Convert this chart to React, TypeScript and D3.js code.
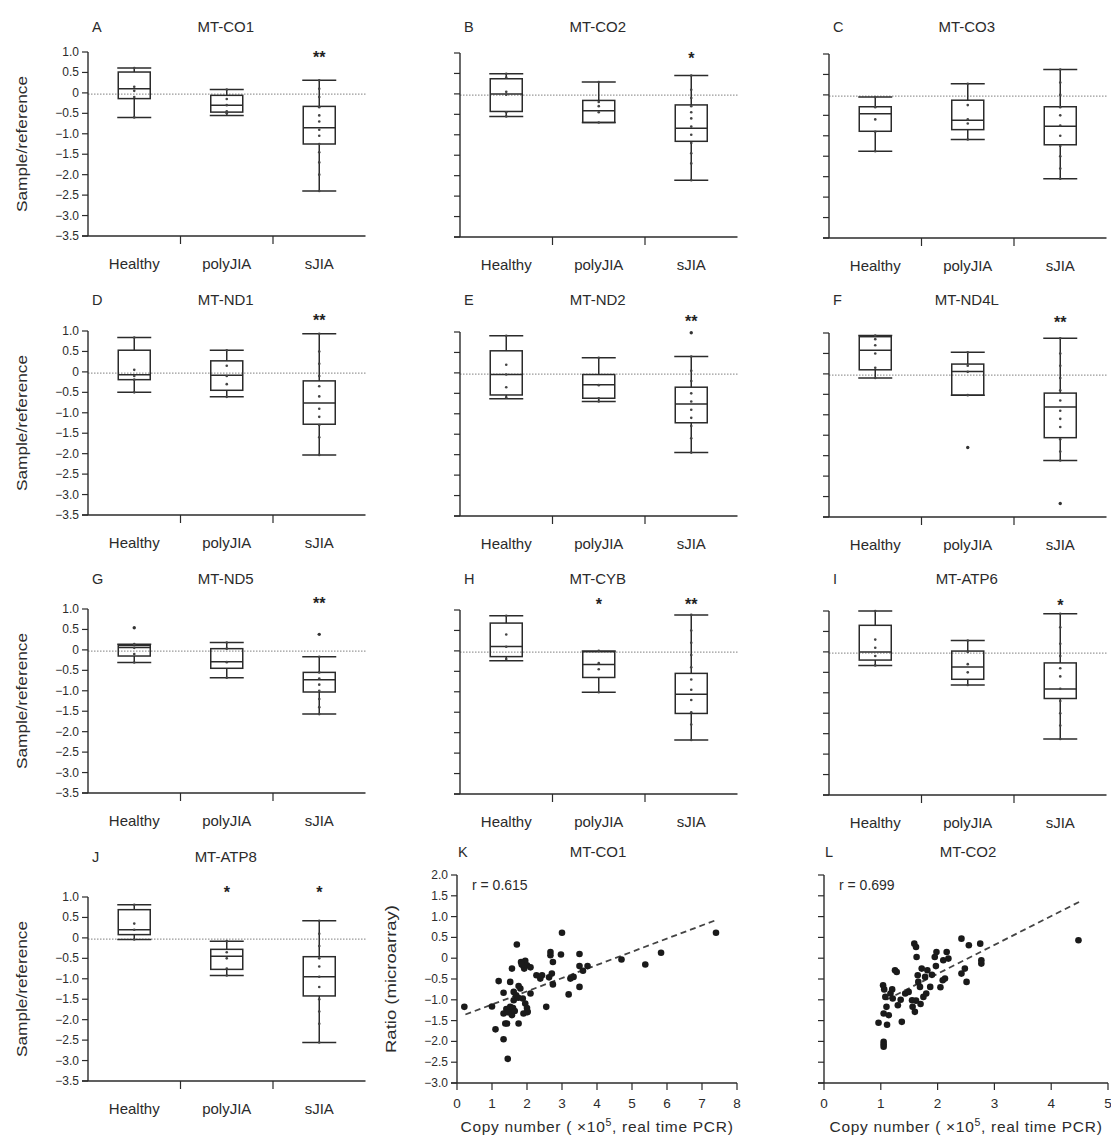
import React from 'react';
import * as d3 from 'd3';

const groups = ['Healthy', 'polyJIA', 'sJIA'];
const boxLetters = ['A', 'B', 'C', 'D', 'E', 'F', 'G', 'H', 'I', 'J'];
const boxGenes = ['MT-CO1', 'MT-CO2', 'MT-CO3', 'MT-ND1', 'MT-ND2', 'MT-ND4L', 'MT-ND5', 'MT-CYB', 'MT-ATP6', 'MT-ATP8'];
const yTicks = [1, 0.5, 0, -0.5, -1, -1.5, -2, -2.5, -3, -3.5];
const yTickLabels = ['1.0', '0.5', '0', '−0.5', '−1.0', '−1.5', '−2.0', '−2.5', '−3.0', '−3.5'];

// [min, q1, median, q3, max] per group
const statsCO1 = [[-0.6, -0.14, 0.1, 0.51, 0.61], [-0.55, -0.47, -0.3, -0.06, 0.08], [-2.4, -1.25, -0.85, -0.33, 0.31]];
const statsCO2 = [[-0.55, -0.43, 0.0, 0.37, 0.49], [-0.7, -0.7, -0.41, -0.16, 0.29], [-2.11, -1.16, -0.84, -0.27, 0.45]];
const statsCO3 = [[-1.38, -0.89, -0.46, -0.29, -0.05], [-1.09, -0.85, -0.62, -0.13, 0.27], [-2.05, -1.22, -0.77, -0.29, 0.62]];
const statsND1 = [[-0.5, -0.19, -0.07, 0.53, 0.84], [-0.61, -0.45, -0.08, 0.27, 0.53], [-2.03, -1.28, -0.76, -0.22, 0.93]];
const statsND2 = [[-0.63, -0.54, -0.04, 0.54, 0.91], [-0.7, -0.62, -0.29, -0.04, 0.37], [-1.95, -1.22, -0.76, -0.35, 0.4]];
const statsND4L = [[-0.1, 0.1, 0.58, 0.91, 0.94], [-0.52, -0.52, 0.06, 0.24, 0.53], [-2.12, -1.56, -0.81, -0.47, 0.87]];
const statsND5 = [[-0.31, -0.15, 0.06, 0.11, 0.14], [-0.68, -0.45, -0.29, 0.03, 0.18], [-1.57, -1.03, -0.73, -0.55, -0.17]];
const statsCYB = [[-0.24, -0.14, 0.11, 0.68, 0.86], [-1.01, -0.65, -0.33, -0.02, 0.0], [-2.18, -1.53, -1.06, -0.55, 0.88]];
const statsATP6 = [[-0.33, -0.2, 0.0, 0.65, 1.0], [-0.81, -0.67, -0.37, 0.02, 0.28], [-2.13, -1.14, -0.91, -0.27, 0.93]];
const statsATP8 = [[-0.04, 0.08, 0.2, 0.69, 0.81], [-0.92, -0.77, -0.45, -0.28, -0.08], [-2.56, -1.42, -0.95, -0.46, 0.42]];

// individual sample values visible inside the boxes
const dotsCO1 = [[0.61, 0.15, 0.05, -0.1, -0.6], [0.08, -0.15, -0.3, -0.45, -0.5], [0.31, 0.1, -0.1, -0.35, -0.55, -0.7, -0.9, -1.05, -1.25, -1.45, -1.7, -2.0, -2.4]];
const dotsCO2 = [[0.49, 0.4, 0.05, -0.02, -0.45, -0.55], [0.29, -0.2, -0.3, -0.45, -0.7], [0.45, 0.1, -0.1, -0.3, -0.45, -0.6, -0.8, -1.0, -1.2, -1.45, -1.7, -2.11]];
const dotsCO3 = [[-0.05, -0.3, -0.6, -0.9, -1.38], [0.27, -0.25, -0.6, -0.7, -1.09], [0.62, 0.3, 0, -0.3, -0.5, -0.75, -1.0, -1.25, -1.5, -1.8, -2.05]];
const dotsND1 = [[0.84, 0.05, -0.1, -0.19, -0.5], [0.53, 0.15, -0.1, -0.3, -0.61], [0.93, 0.5, 0.2, -0.1, -0.35, -0.6, -0.9, -1.1, -1.3, -1.6, -2.03]];
const dotsND2 = [[0.91, 0.2, -0.04, -0.35, -0.6], [0.37, -0.3, -0.62, -0.7], [0.4, 0.05, -0.2, -0.5, -0.7, -0.9, -1.1, -1.3, -1.6, -1.95]];
const dotsND4L = [[0.94, 0.85, 0.7, 0.5, 0.15, -0.1], [0.53, 0.2, 0.05, -0.52], [0.87, 0.5, 0.2, -0.1, -0.4, -0.65, -0.9, -1.1, -1.3, -1.6, -1.9, -2.12]];
const dotsND5 = [[0.14, 0.05, -0.1, -0.31], [0.18, 0.03, -0.3, -0.68], [-0.17, -0.55, -0.7, -0.85, -1.0, -1.2, -1.4, -1.57]];
const dotsCYB = [[0.86, 0.4, 0.1, -0.2], [0.0, -0.3, -0.45, -1.01], [0.88, 0.5, 0.2, -0.1, -0.4, -0.7, -0.95, -1.2, -1.5, -1.8, -2.18]];
const dotsATP6 = [[1.0, 0.3, 0.1, -0.1, -0.33], [0.28, 0.0, -0.3, -0.5, -0.81], [0.93, 0.6, 0.2, -0.1, -0.4, -0.6, -0.9, -1.2, -1.5, -1.8, -2.13]];
const dotsATP8 = [[0.81, 0.35, 0.2, -0.04], [-0.08, -0.35, -0.5, -0.75, -0.92], [0.42, 0.1, -0.2, -0.5, -0.7, -0.95, -1.2, -1.5, -1.8, -2.1, -2.56]];

const outliersND2 = [[], [], [0.98]];
const outliersND4L = [[], [-1.8], [-3.17]];
const outliersND5 = [[0.54], [], [0.38]];

const starsCO1 = ['', '', '**'];
const starsCO2 = ['', '', '*'];
const starsCO3 = ['', '', ''];
const starsND1 = ['', '', '**'];
const starsND2 = ['', '', '**'];
const starsND4L = ['', '', '**'];
const starsND5 = ['', '', '**'];
const starsCYB = ['', '*', '**'];
const starsATP6 = ['', '', '*'];
const starsATP8 = ['', '*', '*'];

// scatter K: MT-CO1 microarray ratio vs copy number
const kX = [0.21, 1.0, 1.19, 1.1, 1.33, 1.33, 1.45, 1.38, 1.43, 1.52, 1.57, 1.71, 1.76, 1.33, 1.41, 1.48, 1.52, 1.57, 1.62, 1.62, 1.69, 1.76, 1.81, 1.83, 1.9, 1.95, 2.0, 2.1, 1.88, 1.95, 2.0, 1.9, 2.02, 2.1, 2.27, 2.38, 2.43, 2.55, 2.67, 2.67, 2.74, 2.71, 2.74, 2.63, 2.97, 3.0, 3.19, 3.24, 3.33, 3.5, 3.5, 3.5, 3.6, 3.73, 4.7, 5.38, 5.83, 7.4, 1.55, 1.45, 1.6, 1.75, 1.92, 1.85, 2.0, 1.65];
const kY = [-1.17, -1.16, -0.55, -1.71, -0.83, -1.95, -2.42, -1.57, -1.57, -0.57, -0.25, 0.33, -1.57, -1.33, -1.22, -1.29, -1.17, -1.37, -1.01, -0.81, -0.89, -0.67, -0.73, -0.09, -0.19, -0.06, -0.17, -0.22, -0.97, -1.09, -1.2, -1.33, -1.29, -0.85, -0.41, -0.49, -0.41, -1.17, 0.15, 0.07, -0.09, -0.37, -0.63, -0.46, 0.09, 0.61, -0.87, -0.49, -0.45, 0.1, -0.19, -0.69, -0.3, -0.19, -0.03, -0.15, 0.13, 0.61, -1.25, -1.3, -1.2, -0.95, -0.25, -0.15, -1.3, -1.27];
const kR = 'r = 0.615';
const kFit = [-1.43, 0.317, 0.24, 7.43]; // intercept, slope, from, to

// scatter L: MT-CO2
const lX = [0.96, 1.05, 1.05, 1.05, 1.11, 1.04, 1.06, 1.08, 1.1, 1.05, 1.14, 1.17, 1.21, 1.25, 1.28, 1.3, 1.37, 1.43, 1.49, 1.55, 1.56, 1.6, 1.59, 1.62, 1.63, 1.65, 1.66, 1.69, 1.72, 1.75, 1.78, 1.82, 1.87, 1.95, 1.98, 1.97, 2.09, 2.1, 2.16, 2.19, 2.13, 2.42, 2.55, 2.42, 2.48, 2.51, 2.75, 2.77, 2.77, 4.48, 1.7, 1.8, 2.05, 1.9, 1.2, 1.35, 1.62];
const lY = [-1.55, -2.01, -2.13, -2.07, -1.6, -0.65, -0.75, -0.93, -1.17, -1.33, -1.37, -0.85, -0.97, -0.29, -0.33, -1.13, -1.53, -0.85, -0.81, -1.01, -1.17, -1.29, 0.35, 0.27, 0.03, -0.41, -0.57, -0.69, -0.25, -0.93, -0.45, -0.29, -0.69, 0.03, 0.15, -0.19, -0.53, -0.05, 0.15, -0.01, -0.49, 0.47, 0.31, -0.37, -0.25, -0.57, 0.35, -0.05, -0.13, 0.43, -1.1, -0.85, -0.7, -0.4, -0.75, -1.0, -1.02];
const lR = 'r = 0.699';
const lFit = [-1.76, 0.693, 1.1, 4.49];

const sTicks = [2, 1.5, 1, 0.5, 0, -0.5, -1, -1.5, -2, -2.5, -3];
const sTickLabels = ['2.0', '1.5', '1.0', '0.5', '0', '−0.5', '−1.0', '−1.5', '−2.0', '−2.5', '−3.0'];

const boxStats = [statsCO1, statsCO2, statsCO3, statsND1, statsND2, statsND4L, statsND5, statsCYB, statsATP6, statsATP8];
const boxDots = [dotsCO1, dotsCO2, dotsCO3, dotsND1, dotsND2, dotsND4L, dotsND5, dotsCYB, dotsATP6, dotsATP8];
const boxOutliers = [null, null, null, null, outliersND2, outliersND4L, outliersND5, null, null, null];
const boxStars = [starsCO1, starsCO2, starsCO3, starsND1, starsND2, starsND4L, starsND5, starsCYB, starsATP6, starsATP8];

// layout
const colX = [88, 460, 829];
const colDy = [0, 1, 2];
const rowTop = [52, 331, 609, 897];
const rowTitleY = [32, 305, 584, 862];
const rowStarOffset = [2, -14, -9, -8];
const plotW = 277.5;
const plotH = 184;
const ink = '#2b2b2b';
const font = 'Liberation Sans, Arial, sans-serif';

function BoxPanel({ i }) {
  const row = Math.floor(i / 3);
  const col = i % 3;
  const x0 = colX[col];
  const top = rowTop[row] + colDy[col];
  const y = d3.scaleLinear().domain([-3.5, 1]).range([top + plotH, top]);
  const x = d3.scaleBand().domain(groups).range([x0, x0 + plotW]);
  const bw = 32;
  const cap = 34;
  const stats = boxStats[i];
  const outl = boxOutliers[i];
  const stars = boxStars[i];
  const bottom = y(-3.5);
  return (
    <g>
      <text x={x0 + 4} y={rowTitleY[row]} fontSize={14.5} fill={ink}>{boxLetters[i]}</text>
      <text x={x0 + plotW / 2 - 1} y={rowTitleY[row]} fontSize={15} fill={ink} textAnchor="middle">{boxGenes[i]}</text>
      <line x1={x0} x2={x0 + plotW} y1={y(-0.03)} y2={y(-0.03)} stroke="#999" strokeWidth={1.1} strokeDasharray="1.5,1.5" />
      <line x1={x0} x2={x0} y1={top} y2={bottom} stroke={ink} strokeWidth={1.4} />
      <line x1={x0 - 6} x2={x0 + plotW} y1={bottom} y2={bottom} stroke={ink} strokeWidth={1.4} />
      {yTicks.map((t, k) => (
        <g key={k}>
          <line x1={x0 - 6} x2={x0} y1={y(t)} y2={y(t)} stroke={ink} strokeWidth={1.2} />
          {col === 0 && (
            <text x={x0 - 9} y={y(t) + 4} fontSize={12} fill={ink} textAnchor="end">{yTickLabels[k]}</text>
          )}
        </g>
      ))}
      {groups.slice(1).map((g) => (
        <line key={g} x1={x(g)} x2={x(g)} y1={bottom} y2={bottom + 8} stroke={ink} strokeWidth={1.2} />
      ))}
      {groups.map((g) => (
        <text key={g} x={x(g) + x.bandwidth() / 2} y={bottom + 33} fontSize={15} fill={ink} textAnchor="middle">{g}</text>
      ))}
      {col === 0 && (
        <text transform={`translate(${27},${(top + bottom) / 2}) rotate(-90)`} fontSize={14.5} fill={ink} textAnchor="middle" textLength={136} lengthAdjust="spacingAndGlyphs">Sample/reference</text>
      )}
      {groups.map((g, k) => {
        const [mn, q1, md, q3, mx] = stats[k];
        const cx = x(g) + x.bandwidth() / 2;
        return (
          <g key={g} stroke={ink} strokeWidth={1.5} fill="none">
            <line x1={cx} x2={cx} y1={y(mx)} y2={y(q3)} />
            <line x1={cx} x2={cx} y1={y(q1)} y2={y(mn)} />
            <line x1={cx - cap / 2} x2={cx + cap / 2} y1={y(mx)} y2={y(mx)} />
            <line x1={cx - cap / 2} x2={cx + cap / 2} y1={y(mn)} y2={y(mn)} />
            <rect x={cx - bw / 2} y={y(q3)} width={bw} height={y(q1) - y(q3)} />
            <line x1={cx - bw / 2} x2={cx + bw / 2} y1={y(md)} y2={y(md)} />
            {boxDots[i][k].map((v, j) => (
              <circle key={j} cx={cx} cy={y(v)} r={1.3} fill="#444" stroke="none" />
            ))}
            {outl && outl[k].map((v, j) => (
              <circle key={'o' + j} cx={cx} cy={y(v)} r={1.7} fill="#333" stroke="none" />
            ))}
            {stars[k] && (
              <text x={cx} y={top + rowStarOffset[row] + 9} fontSize={16} fontWeight="bold" fill="#222" stroke="none" textAnchor="middle">{stars[k]}</text>
            )}
          </g>
        );
      })}
    </g>
  );
}

function ScatterPanel({ letter, gene, xs, ys, r, fit, x0, x1, xMax, titleX, showY }) {
  const top = 875;
  const bottom = 1083;
  const x = d3.scaleLinear().domain([0, xMax]).range([x0, x1]);
  const y = d3.scaleLinear().domain([-3, 2]).range([bottom, top]);
  const [b0, b1, f0, f1] = fit;
  const line = d3.line().x((d) => x(d)).y((d) => y(b0 + b1 * d));
  const xTicks = d3.range(0, xMax + 1);
  return (
    <g>
      <text x={x0 + 1} y={857} fontSize={14.5} fill={ink}>{letter}</text>
      <text x={titleX} y={857} fontSize={15} fill={ink} textAnchor="middle">{gene}</text>
      <line x1={x0} x2={x0} y1={top} y2={bottom} stroke={ink} strokeWidth={1.4} />
      <line x1={x0 - 6} x2={x1} y1={bottom} y2={bottom} stroke={ink} strokeWidth={1.4} />
      {sTicks.map((t, k) => (
        <g key={k}>
          <line x1={x0 - 6} x2={x0} y1={y(t)} y2={y(t)} stroke={ink} strokeWidth={1.2} />
          {showY && (
            <text x={x0 - 9} y={y(t) + 4} fontSize={12} fill={ink} textAnchor="end">{sTickLabels[k]}</text>
          )}
        </g>
      ))}
      {xTicks.map((t) => (
        <g key={t}>
          <line x1={x(t)} x2={x(t)} y1={bottom} y2={bottom + 7} stroke={ink} strokeWidth={1.2} />
          <text x={x(t)} y={bottom + 25} fontSize={13.5} fill={ink} textAnchor="middle">{t}</text>
        </g>
      ))}
      <text x={(x0 + x1) / 2} y={1132} fontSize={15.5} letterSpacing={0.7} fill={ink} textAnchor="middle">
        Copy number ( ×10<tspan dy={-6} fontSize={10.5}>5</tspan><tspan dy={6}>, real time PCR)</tspan>
      </text>
      {showY && (
        <text transform={`translate(${396},${(top + bottom) / 2}) rotate(-90)`} fontSize={14.5} fill={ink} textAnchor="middle" textLength={148} lengthAdjust="spacingAndGlyphs">Ratio (microarray)</text>
      )}
      <text x={x0 + 15} y={890} fontSize={14} fill={ink}>{r}</text>
      <path d={line([f0, f1])} stroke="#444" strokeWidth={1.8} strokeDasharray="6,4" fill="none" />
      {xs.map((v, k) => (
        <circle key={k} cx={x(v)} cy={y(ys[k])} r={3.3} fill="#1a1a1a" />
      ))}
    </g>
  );
}

export default function App() {
  return (
    <svg width={1111} height={1138} style={{ position: 'absolute', left: 0, top: 0, background: '#fff' }} fontFamily={font}>
      {boxLetters.map((_, i) => (
        <BoxPanel key={i} i={i} />
      ))}
      <ScatterPanel letter="K" gene="MT-CO1" xs={kX} ys={kY} r={kR} fit={kFit} x0={457} x1={737} xMax={8} titleX={598} showY={true} />
      <ScatterPanel letter="L" gene="MT-CO2" xs={lX} ys={lY} r={lR} fit={lFit} x0={824} x1={1108} xMax={5} titleX={968} showY={false} />
    </svg>
  );
}
